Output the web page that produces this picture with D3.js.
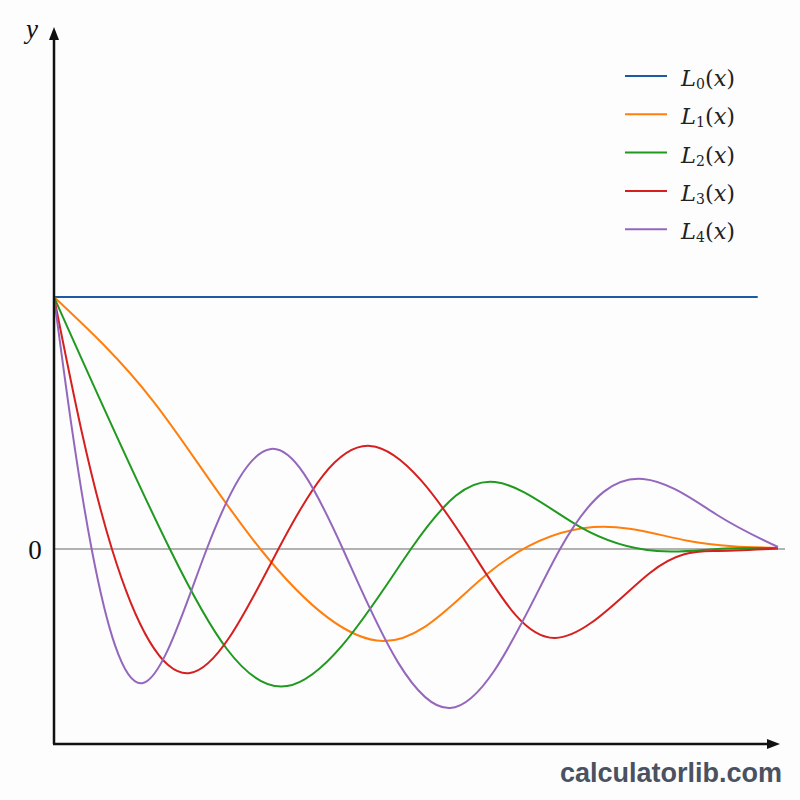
<!DOCTYPE html>
<html>
<head>
<meta charset="utf-8">
<script src="https://cdn.jsdelivr.net/npm/d3@7"></script>
<style>
  body { margin: 0; background: #fff; }
  svg { display: block; }
</style>
</head>
<body>
<script>
// series names + colours
var names = ["0", "1", "2", "3", "4"];
var colors = ["#1c5aa3", "#ff7f0e", "#1f9a1f", "#d62020", "#9467bd"];

// values: [x, y], y = 1 at the start
// mostly the turning points and zero crossings, kept roughly evenly spaced
var L0 = [[0, 1], [9.72, 1]];
var L1 = [[0, 1], [1.38, 0.583], [2.85, 0], [4.544, -0.365], [6.0, -0.095], [7.45, 0.087],
          [8.75, 0.033], [10, 0.004]];
var L2 = [[0, 1], [1.6, 0], [3.218, -0.544], [4.93, 0], [6.09, 0.266], [7.27, 0.087],
          [8.33, -0.008], [9.16, 0], [10, 0.004]];
var L3 = [[0, 1], [0.8, 0], [1.878, -0.492], [3.1, 0], [4.365, 0.409], [5.75, 0],
          [6.92, -0.353], [8.23, -0.095], [9.12, -0.008], [10, 0.002]];
var L4 = [[0, 1], [0.52, 0], [1.229, -0.532], [2.11, 0], [2.997, 0.397], [3.99, 0],
          [5.47, -0.631], [6.99, 0], [8.135, 0.278], [9.16, 0.135], [10, 0.008]];
var series = [L0, L1, L2, L3, L4];

var w = 800, h = 800;

var svg = d3.select("body").append("svg")
  .attr("width", w).attr("height", h);

svg.append("rect").attr("width", w).attr("height", h).attr("fill", "#fdfdfd");

var xScale = d3.scaleLinear().domain([0, 10]).range([54, 778]);
var yScale = d3.scaleLinear().domain([0, 1]).range([549, 297]);

var axisY = 744; // where the x axis sits

// zero line
svg.append("line")
  .attr("x1", xScale(0)).attr("x2", 785)
  .attr("y1", yScale(0)).attr("y2", yScale(0))
  .attr("stroke", "#999").attr("stroke-width", 1.5);

// curves
var line = d3.line()
  .x(function(d) { return xScale(d[0]); })
  .y(function(d) { return yScale(d[1]); })
  .curve(d3.curveNatural);

svg.selectAll("path.curve")
  .data(series)
  .enter()
  .append("path")
  .attr("class", "curve")
  .attr("d", line)
  .attr("fill", "none")
  .attr("stroke", function(d, i) { return colors[i]; })
  .attr("stroke-width", 2);

// axes with arrows
svg.append("line")
  .attr("x1", 54).attr("y1", axisY).attr("x2", 54).attr("y2", 38)
  .attr("stroke", "#111").attr("stroke-width", 2.5);
svg.append("path")
  .attr("d", "M54,27 L49,40 L59,40 Z").attr("fill", "#111");
svg.append("line")
  .attr("x1", 53).attr("y1", axisY).attr("x2", 770).attr("y2", axisY)
  .attr("stroke", "#111").attr("stroke-width", 2.5);
svg.append("path")
  .attr("d", "M780," + axisY + " L767," + (axisY - 5) + " L767," + (axisY + 5) + " Z")
  .attr("fill", "#111");

svg.append("text")
  .attr("x", 32).attr("y", 38)
  .attr("text-anchor", "middle")
  .attr("font-family", "Liberation Serif, serif")
  .attr("font-style", "italic")
  .attr("font-size", "27px")
  .attr("fill", "#111")
  .text("y");

svg.append("text")
  .attr("x", 35).attr("y", yScale(0) + 10)
  .attr("text-anchor", "middle")
  .attr("font-family", "Liberation Serif, serif")
  .attr("font-size", "27px")
  .attr("fill", "#111")
  .text("0");

// legend
var legend = svg.selectAll("g.leg")
  .data(names)
  .enter()
  .append("g")
  .attr("class", "leg")
  .attr("transform", function(d, i) { return "translate(625," + (76 + i * 38.3) + ")"; });

legend.append("line")
  .attr("x1", 0).attr("x2", 42)
  .attr("stroke", function(d, i) { return colors[i]; })
  .attr("stroke-width", 2);

var lt = legend.append("text")
  .attr("x", 56).attr("y", 10)
  .attr("font-family", "DejaVu Serif, serif")
  .attr("font-size", "22.5px")
  .attr("fill", "#222");
lt.append("tspan").attr("font-style", "italic").text("L");
lt.append("tspan").attr("font-size", "14px").attr("dy", 3).text(function(d) { return d; });
lt.append("tspan").attr("dy", -3).text("(");
lt.append("tspan").attr("font-style", "italic").text("x");
lt.append("tspan").text(")");

// watermark
svg.append("text")
  .attr("x", 671).attr("y", 782)
  .attr("text-anchor", "middle")
  .attr("font-family", "Liberation Sans, Arial, sans-serif")
  .attr("font-weight", "bold")
  .attr("font-size", "27px")
  .attr("fill", "#4a5261")
  .text("calculatorlib.com");
</script>
</body>
</html>
